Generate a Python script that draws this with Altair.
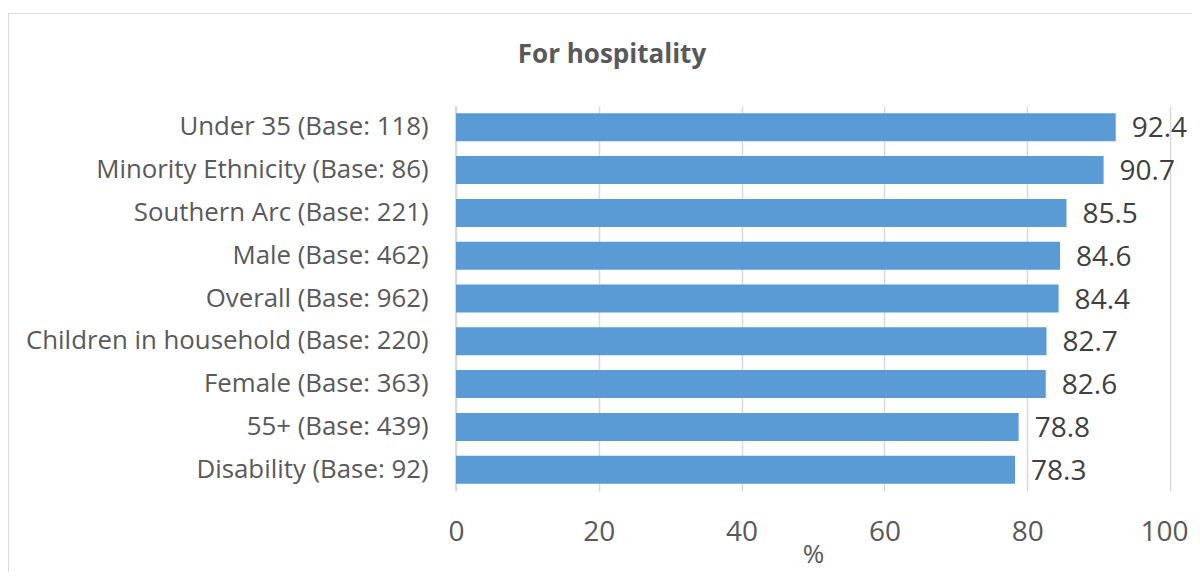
import altair as alt
import pandas as pd

categories = [
    "Under 35 (Base: 118)",
    "Minority Ethnicity (Base: 86)",
    "Southern Arc (Base: 221)",
    "Male (Base: 462)",
    "Overall (Base: 962)",
    "Children in household (Base: 220)",
    "Female (Base: 363)",
    "55+ (Base: 439)",
    "Disability (Base: 92)",
]
values = [92.4, 90.7, 85.5, 84.6, 84.4, 82.7, 82.6, 78.8, 78.3]
x_ticks = [0, 20, 40, 60, 80, 100]
title_text = ["For hospitality"]

df = pd.DataFrame({"cat": categories, "val": values})

FONT = "Open Sans"
W, H = 714, 385

yenc = alt.Y("cat:N", sort=categories, title=None,
             scale=alt.Scale(paddingInner=0.345, paddingOuter=0.17),
             axis=alt.Axis(labelFont=FONT, labelFontSize=25.8, labelColor="#595959",
                           labelPadding=28, ticks=False, domain=False, labelLimit=600))
xenc = alt.X("val:Q", title="%", scale=alt.Scale(domain=[0, 100], nice=False),
             axis=alt.Axis(values=x_ticks, labelFont=FONT, labelFontSize=28, labelColor="#595959",
                           labelPadding=27, labelFlush=False,
                           labelOffset=alt.ExprRef("datum.value == 100 ? -6 : 0"),
                           ticks=False, domain=False, grid=True,
                           gridColor="#D9D9D9", gridWidth=1.5,
                           titleFont=FONT, titleFontSize=26, titleColor="#595959",
                           titleFontWeight="normal", titlePadding=-5))

bars = alt.Chart(df).mark_bar(color="#5B9BD5").encode(x=xenc, y=yenc)
labels = alt.Chart(df).mark_text(align="left", baseline="middle", dx=16, dy=2,
                                 font=FONT, fontSize=28, color="#404040").encode(
    x="val:Q", y=alt.Y("cat:N", sort=categories), text=alt.Text("val:Q", format=".1f"))
yaxisline = alt.Chart(df).mark_rule(color="#D9D9D9", strokeWidth=1.5).encode(
    x=alt.value(0), y=alt.value(0), y2=alt.value(H))
frame = alt.Chart(df).mark_rect(fill=None, stroke="#D9D9D9", strokeWidth=1).encode(
    x=alt.value(-447.5), y=alt.value(-92.5), x2=alt.value(W + 60), y2=alt.value(H + 200))
title = alt.Chart(pd.DataFrame({"t": title_text})).mark_text(
    font=FONT, fontSize=26, fontWeight="bold", color="#595959",
    align="center", baseline="middle").encode(
    text="t:N", x=alt.value(612 - 456), y=alt.value(55 - 106))

chart = alt.layer(frame, yaxisline, bars, labels, title).properties(
    width=W, height=H,
    autosize=alt.AutoSizeParams(type="none"),
    padding={"left": 448, "top": 98, "right": 22, "bottom": 81},
).configure_view(stroke=None)

chart.save("out.html", embed_options={"renderer": "svg", "actions": False})
